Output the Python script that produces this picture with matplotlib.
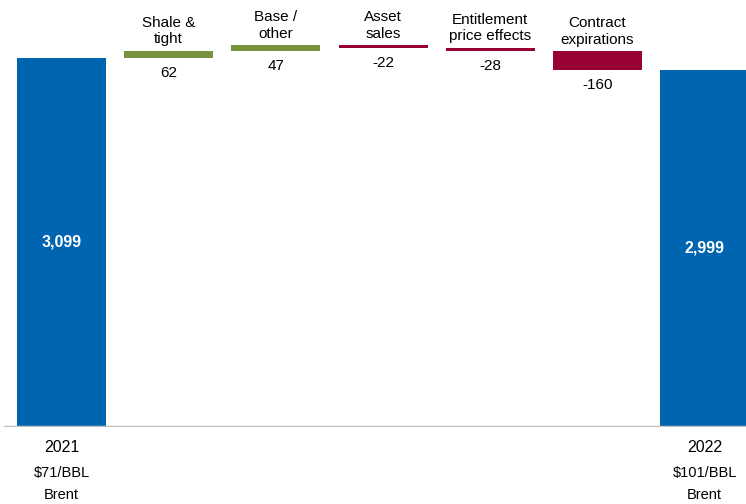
import numpy as np
import matplotlib.pyplot as plt

plt.rcParams["font.family"] = ["Liberation Sans", "DejaVu Sans"]

# 생산량 변화 (waterfall)
start_label = ["2021", "$71/BBL", "Brent"]
end_label = ["2022", "$101/BBL", "Brent"]
start_value = 3099
end_value = 2999
steps = ["Shale &\ntight", "Base /\nother", "Asset\nsales", "Entitlement\nprice effects", "Contract\nexpirations"]
step_values = [62, 47, -22, -28, -160]

blue = "#0065B1"
green = "#76923C"
red = "#990033"

fig = plt.figure(figsize=(7.46, 5.04), dpi=100)
ax = fig.add_axes([0, 77 / 504, 1, 427 / 504])

width = 0.83
n = len(steps)

# 시작/끝 막대
ax.bar(0, start_value, width=width, color=blue, zorder=2)
ax.bar(n + 1, end_value, width=width, color=blue, zorder=2)

# 중간 증감 막대
level = start_value
for i, v in enumerate(step_values):
    x = i + 1
    bottom = level if v >= 0 else level + v
    color = green if v >= 0 else red
    ax.bar(x, abs(v), bottom=bottom, width=width, color=color, zorder=2)
    top = bottom + abs(v)
    ax.annotate(steps[i], (x, top), xytext=(0, 3), textcoords="offset points",
                ha="center", va="bottom", fontsize=11, linespacing=1.25)
    ax.annotate(f"{v}", (x, bottom), xytext=(0, -6), textcoords="offset points",
                ha="center", va="top", fontsize=11)
    level += v

# 막대 안 값
for x, v in [(0, start_value), (n + 1, end_value)]:
    ax.text(x, v / 2, f"{v:,}", ha="center", va="center", color="white",
            fontsize=11.5, fontweight="bold")

# 아래 라벨
for x, lab in [(0, start_label), (n + 1, end_label)]:
    ax.annotate(lab[0], (x, 0), xytext=(0, -15), textcoords="offset points",
                ha="center", va="center", fontsize=11.5, annotation_clip=False)
    ax.annotate(lab[1].replace("$", r"\$"), (x, 0), xytext=(0, -33), textcoords="offset points",
                ha="center", va="center", fontsize=10.5, annotation_clip=False)
    ax.annotate(lab[2], (x, 0), xytext=(0, -49), textcoords="offset points",
                ha="center", va="center", fontsize=10.5, annotation_clip=False)

ax.axhline(0, xmin=5 / 746, xmax=1, color="#BFBFBF", lw=2.5, zorder=3)

ax.set_xlim(-0.574, 6.385)
ax.set_ylim(0, 3585)
ax.axis("off")

fig.savefig("out.png", dpi=100)
